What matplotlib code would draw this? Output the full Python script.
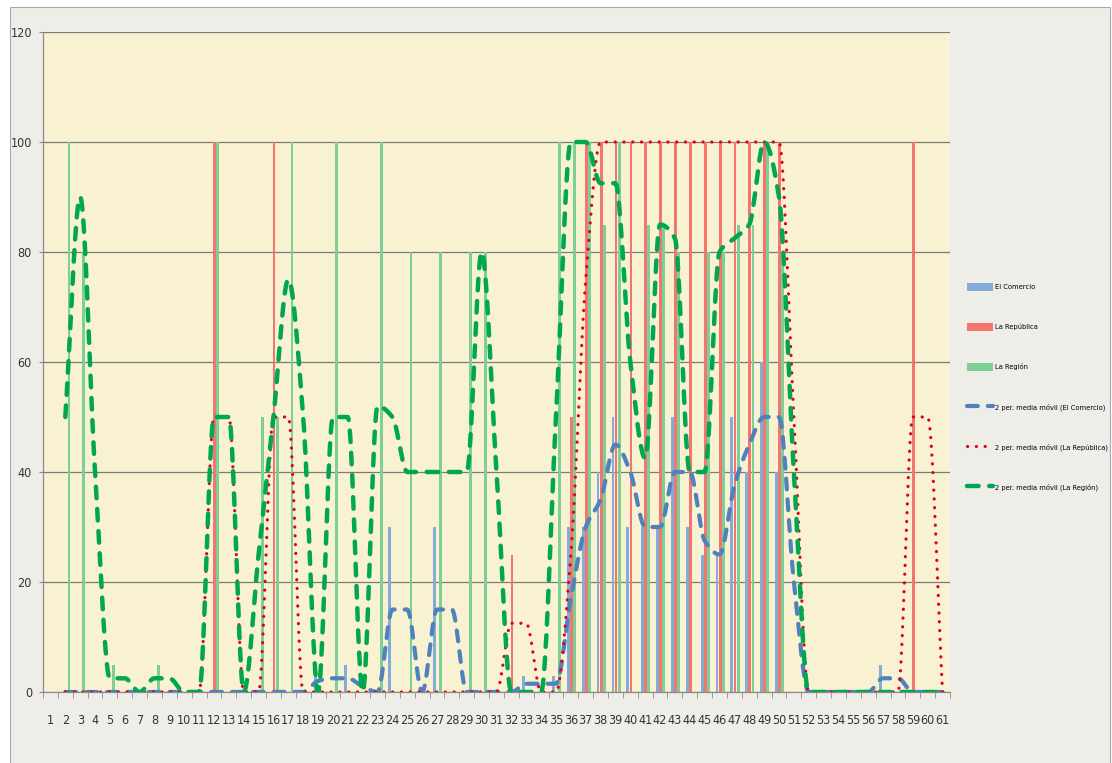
import numpy as np
import matplotlib
matplotlib.use('Agg')
import matplotlib.pyplot as plt
from matplotlib.patches import Rectangle

plt.rcParams['font.family'] = ['Liberation Sans Narrow', 'DejaVu Sans']
plt.rcParams['font.stretch'] = 'condensed'

nan = float('nan')
categories = list(range(1, 62))

el_comercio = [0, 0, 0, 0, 0, 0, 0, 0, 0, 0,
               0, 0, 0, 0, 0, 0, 0, 0, 5, 0,
               5, 0, 0, 30, 0, 0, 30, 0, 0, 0,
               0, 0, 3, 0, 3, 30, 30, 40, 50, 30,
               30, 30, 50, 30, 25, 25, 50, 40, 60, 40,
               0, 0, 0, 0, 0, 0, 5, 0, 0, 0,
               0]
la_republica = [0, 0, 0, 0, 0, 0, 0, 0, 0, 0,
                0, 100, 0, 0, 0, 100, 0, 0, 0, 0,
                0, 0, 0, 0, 0, 0, 0, 0, 0, 0,
                0, 25, 0, 0, 0, 50, 100, 100, 100, 100,
                100, 100, 100, 100, 100, 100, 100, 100, 100, 100,
                0, 0, 0, 0, 0, 0, 0, 0, 100, 0,
                0]
la_region = [0, 100, 80, 0, 5, 0, 0, 5, 0, 0,
             0, 100, 0, 0, 50, 50, 100, 0, 0, 100,
             0, 0, 100, 0, 80, 0, 80, 0, 80, 80,
             0, 0, 0, 0, 100, 100, 100, 85, 100, 0,
             85, 85, 80, 0, 80, 80, 85, 85, 100, 80,
             0, 0, 0, 0, 0, 0, 0, 0, 0, 0,
             0]

# 2 per. media movil (no value for category 1)
ma_comercio = [nan, 0, 0, 0, 0, 0, 0, 0, 0, 0,
               0, 0, 0, 0, 0, 0, 0, 0, 2, 2.5,
               2.5, 1, 0, 15, 15, 0, 15, 15, 0, 0,
               0, 0, 1.5, 1.5, 1.5, 17, 30, 35, 45, 40,
               30, 30, 40, 40, 27.5, 25, 37.5, 45, 50, 50,
               20, 0, 0, 0, 0, 0, 2.5, 2.5, 0, 0,
               0]
ma_republica = [nan, 0, 0, 0, 0, 0, 0, 0, 0, 0,
                0, 50, 50, 0, 0, 50, 50, 0, 0, 0,
                0, 0, 0, 0, 0, 0, 0, 0, 0, 0,
                0, 12.5, 12.5, 0, 0, 25, 75, 100, 100, 100,
                100, 100, 100, 100, 100, 100, 100, 100, 100, 100,
                50, 0, 0, 0, 0, 0, 0, 0, 50, 50,
                0]
ma_region = [nan, 50, 90, 40, 2.5, 2.5, 0, 2.5, 2.5, 0,
             0, 50, 50, 0, 25, 50, 75, 50, 0, 50,
             50, 0, 52, 50, 40, 40, 40, 40, 40, 80,
             40, 0, 0, 0, 50, 100, 100, 92.5, 92.5, 60,
             42.5, 85, 82.5, 40, 40, 80, 82.5, 85, 100, 90,
             40, 0, 0, 0, 0, 0, 0, 0, 0, 0,
             0]

bar_labels = ['El Comercio', 'La República', 'La Región']
ma_labels = ['2 per. media móvil (El Comercio)',
             '2 per. media móvil (La República)',
             '2 per. media móvil (La Región)']


def smooth(x, y, n=20):
    # smoothed line through the points without overshoot (monotone cubic)
    x = np.asarray(x, float)
    y = np.asarray(y, float)
    ok = ~np.isnan(y)
    x, y = x[ok], y[ok]
    d = np.diff(y) / np.diff(x)
    m = np.zeros_like(y)
    for i in range(1, len(y) - 1):
        if d[i - 1] * d[i] > 0:
            m[i] = 2 / (1 / d[i - 1] + 1 / d[i])
    m[0], m[-1] = d[0], d[-1]
    t = np.linspace(0, 1, n, endpoint=False)
    h00 = 2 * t ** 3 - 3 * t ** 2 + 1
    h10 = t ** 3 - 2 * t ** 2 + t
    h01 = -2 * t ** 3 + 3 * t ** 2
    h11 = t ** 3 - t ** 2
    xs, ys = [], []
    for i in range(len(y) - 1):
        dx = x[i + 1] - x[i]
        xs.append(x[i] + t * dx)
        ys.append(h00 * y[i] + h10 * dx * m[i] + h01 * y[i + 1] + h11 * dx * m[i + 1])
    xs.append([x[-1]])
    ys.append([y[-1]])
    return np.concatenate(xs), np.concatenate(ys)


fig = plt.figure(figsize=(11.12, 7.63), dpi=100, facecolor='white')
fig.patches.append(Rectangle((10 / 1112, -0.01), 1100 / 1112, 1 - 7 / 763 + 0.01,
                             transform=fig.transFigure, facecolor='#efede8',
                             edgecolor='#a8a8a8', linewidth=0.8, zorder=-10))

ax = fig.add_axes([43 / 1112, 1 - 692 / 763, 907 / 1112, 660 / 763])
ax.set_facecolor('#f8f2d2')

x = np.array(categories)
bar_colors = ['#84acd8', '#f2766e', '#7ccf96']
w = 0.19
for k, (vals, col, lab) in enumerate(zip([el_comercio, la_republica, la_region],
                                          bar_colors, bar_labels)):
    ax.bar(x + (k - 1) * 0.21 + 0.04, vals, width=w, color=col, label=lab,
           linewidth=0, zorder=2)

sx, sy = smooth(x, ma_comercio)
ax.plot(sx, sy, color='#4f81bd', lw=3.0, dashes=(2.6, 2.4), dash_capstyle='round',
        label=ma_labels[0], zorder=3)
sx, sy = smooth(x, ma_republica)
ax.plot(sx, sy, color='#e3001b', lw=2.3, dashes=(0.05, 2.7), dash_capstyle='round',
        label=ma_labels[1], zorder=4)
sx, sy = smooth(x, ma_region)
ax.plot(sx, sy, color='#00a650', lw=3.2, dashes=(2.6, 2.4), dash_capstyle='round',
        label=ma_labels[2], zorder=5)

ax.set_xlim(0.5, 61.5)
ax.set_ylim(0, 120)
ax.set_yticks(range(0, 121, 20))
ax.set_xticks(categories)
ax.set_xticklabels([str(c) for c in categories])
ax.set_xticks(np.arange(0.5, 62, 1), minor=True)
ax.yaxis.grid(True, color='#7a7a7a', linewidth=0.9, zorder=1)
ax.set_axisbelow(True)
ax.tick_params(axis='x', which='major', length=0, pad=16, labelsize=9, labelcolor='#333333')
ax.tick_params(axis='x', which='minor', length=4, color='#8c8c8c', direction='out')
ax.tick_params(axis='y', length=3, color='#8c8c8c', pad=5, labelsize=9, labelcolor='#333333')
for s in ['top', 'right']:
    ax.spines[s].set_visible(False)
for s in ['left', 'bottom']:
    ax.spines[s].set_color('#8c8c8c')
    ax.spines[s].set_linewidth(0.9)

h, l = ax.get_legend_handles_labels()
order = [3, 4, 5, 0, 1, 2]
fig.legend([h[i] for i in order], [l[i] for i in order], loc='upper left',
           bbox_to_anchor=(967 / 1112, 1 - 283 / 763), frameon=False, fontsize=5.4,
           labelspacing=4.3, handlelength=3.5, handleheight=1.2, handletextpad=0.25,
           borderpad=0, borderaxespad=0)

fig.savefig('out.png', dpi=100, facecolor=fig.get_facecolor())
